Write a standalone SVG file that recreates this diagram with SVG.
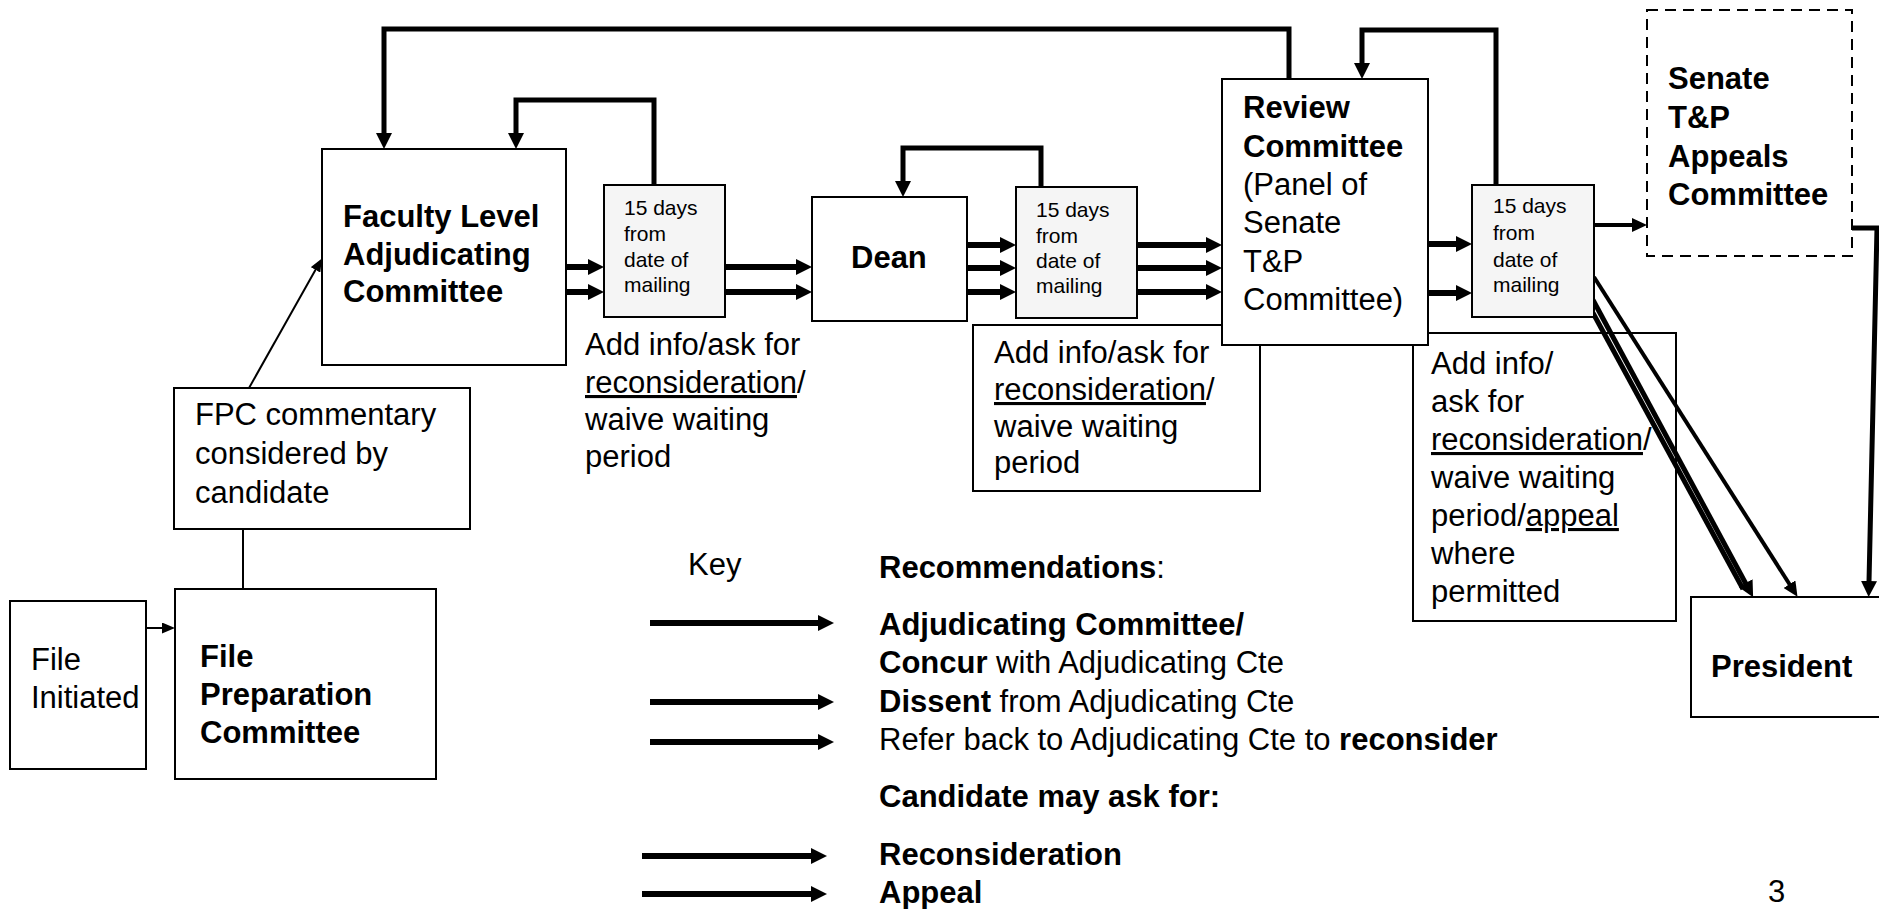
<svg xmlns="http://www.w3.org/2000/svg" width="1879" height="909" viewBox="0 0 1879 909">
<defs>
<style>
.box{fill:#fff;stroke:#000;stroke-width:2}
.gbox{fill:#f5f5f5;stroke:#000;stroke-width:2}
.dbox{fill:#fff;stroke:#000;stroke-width:2;stroke-dasharray:11 7}
text{font-family:"Liberation Sans",Arial,sans-serif;font-size:31px;fill:#000}
.b{font-weight:bold}
.s{font-size:21px}
.u{text-decoration:underline}
.loop{fill:none;stroke:#000;stroke-width:5;stroke-linecap:round}
.flow{fill:none;stroke:#000;stroke-width:6}
.med{fill:none;stroke:#000;stroke-width:4}
.thick{fill:none;stroke:#000;stroke-width:5}
.thin{fill:none;stroke:#000;stroke-width:2}
</style>
<marker id="ah" markerUnits="userSpaceOnUse" markerWidth="16" markerHeight="16" viewBox="0 0 16 16" refX="1" refY="8" orient="auto"><path d="M0,0 L16,8 L0,16 z" fill="#000"/></marker>
<marker id="am" markerUnits="userSpaceOnUse" markerWidth="15" markerHeight="14" viewBox="0 0 15 14" refX="1" refY="7" orient="auto"><path d="M0,0 L15,7 L0,14 z" fill="#000"/></marker>
<marker id="as" markerUnits="userSpaceOnUse" markerWidth="13" markerHeight="11" viewBox="0 0 13 11" refX="1" refY="5.5" orient="auto"><path d="M0,0 L13,5.5 L0,11 z" fill="#000"/></marker>
</defs>
<rect width="1879" height="909" fill="#fff"/>

<g id="label1">
<text x="585" y="355">Add info/ask for</text>
<text x="585" y="393"><tspan class="u">reconsideration</tspan>/</text>
<text x="585" y="430">waive waiting</text>
<text x="585" y="467">period</text>
</g>
<g id="label2">
<rect class="box" x="973" y="325" width="287" height="166"/>
<text x="994" y="363">Add info/ask for</text>
<text x="994" y="400"><tspan class="u">reconsideration</tspan>/</text>
<text x="994" y="437">waive waiting</text>
<text x="994" y="473">period</text>
</g>
<g id="label3">
<rect class="box" x="1413" y="333" width="263" height="288"/>
<text x="1431" y="374">Add info/</text>
<text x="1431" y="412">ask for</text>
<text x="1431" y="450"><tspan class="u">reconsideration</tspan>/</text>
<text x="1431" y="488">waive waiting</text>
<text x="1431" y="526">period/<tspan class="u">appeal</tspan></text>
<text x="1431" y="564">where</text>
<text x="1431" y="602">permitted</text>
</g>

<g id="connectors">
<polyline class="loop" points="1289,79 1289,29 384,29 384,134" marker-end="url(#ah)"/>
<polyline class="loop" points="654,185 654,100 516,100 516,134" marker-end="url(#ah)"/>
<polyline class="loop" points="1041,187 1041,148 903,148 903,182" marker-end="url(#ah)"/>
<polyline class="loop" points="1496,185 1496,30 1362,30 1362,64" marker-end="url(#ah)"/>
<line class="flow" x1="566" y1="267" x2="589" y2="267" marker-end="url(#ah)"/>
<line class="flow" x1="566" y1="292" x2="589" y2="292" marker-end="url(#ah)"/>
<line class="flow" x1="725" y1="267" x2="797" y2="267" marker-end="url(#ah)"/>
<line class="flow" x1="725" y1="292" x2="797" y2="292" marker-end="url(#ah)"/>
<line class="flow" x1="967" y1="245" x2="1001" y2="245" marker-end="url(#ah)"/>
<line class="flow" x1="967" y1="268" x2="1001" y2="268" marker-end="url(#ah)"/>
<line class="flow" x1="967" y1="292" x2="1001" y2="292" marker-end="url(#ah)"/>
<line class="flow" x1="1137" y1="245" x2="1207" y2="245" marker-end="url(#ah)"/>
<line class="flow" x1="1137" y1="268" x2="1207" y2="268" marker-end="url(#ah)"/>
<line class="flow" x1="1137" y1="292" x2="1207" y2="292" marker-end="url(#ah)"/>
<line class="flow" x1="1428" y1="244" x2="1457" y2="244" marker-end="url(#ah)"/>
<line class="flow" x1="1428" y1="293" x2="1457" y2="293" marker-end="url(#ah)"/>
<line class="med" x1="1594" y1="225" x2="1633" y2="225" marker-end="url(#am)"/>
<polyline class="loop" points="1852,228 1877,228 1869,582" marker-end="url(#ah)"/>
<line class="med" x1="1594" y1="277" x2="1790" y2="585" marker-end="url(#am)"/>
<line class="thick" x1="1593" y1="300" x2="1746" y2="584" marker-end="url(#ah)"/>
<line class="thick" x1="1593" y1="313" x2="1743" y2="589"/>
<line class="thin" x1="249" y1="388" x2="316" y2="269" marker-end="url(#as)"/>
<line class="thin" x1="243" y1="529" x2="243" y2="589"/>
<line class="thin" x1="146" y1="628" x2="163" y2="628" marker-end="url(#as)"/>
</g>

<g id="faculty">
<rect class="box" x="322" y="149" width="244" height="216"/>
<text class="b" x="343" y="227">Faculty Level</text>
<text class="b" x="343" y="265">Adjudicating</text>
<text class="b" x="343" y="302">Committee</text>
</g>
<g id="wait1">
<rect class="gbox" x="604" y="185" width="121" height="132"/>
<text class="s" x="624" y="215">15 days</text>
<text class="s" x="624" y="241">from</text>
<text class="s" x="624" y="267">date of</text>
<text class="s" x="624" y="292">mailing</text>
</g>
<g id="dean">
<rect class="box" x="812" y="197" width="155" height="124"/>
<text class="b" x="851" y="268">Dean</text>
</g>
<g id="wait2">
<rect class="gbox" x="1016" y="187" width="121" height="131"/>
<text class="s" x="1036" y="217">15 days</text>
<text class="s" x="1036" y="243">from</text>
<text class="s" x="1036" y="268">date of</text>
<text class="s" x="1036" y="293">mailing</text>
</g>
<g id="review">
<rect class="box" x="1222" y="79" width="206" height="266"/>
<text class="b" x="1243" y="118">Review</text>
<text class="b" x="1243" y="157">Committee</text>
<text x="1243" y="195">(Panel of</text>
<text x="1243" y="233">Senate</text>
<text x="1243" y="272">T&amp;P</text>
<text x="1243" y="310">Committee)</text>
</g>
<g id="wait3">
<rect class="gbox" x="1472" y="185" width="122" height="132"/>
<text class="s" x="1493" y="213">15 days</text>
<text class="s" x="1493" y="240">from</text>
<text class="s" x="1493" y="267">date of</text>
<text class="s" x="1493" y="292">mailing</text>
</g>
<g id="senate">
<rect class="dbox" x="1647" y="10" width="205" height="246"/>
<text class="b" x="1668" y="89">Senate</text>
<text class="b" x="1668" y="128">T&amp;P</text>
<text class="b" x="1668" y="167">Appeals</text>
<text class="b" x="1668" y="205">Committee</text>
</g>
<g id="president">
<rect class="box" x="1691" y="597" width="200" height="120"/>
<text class="b" x="1711" y="677">President</text>
</g>
<g id="fpc">
<rect class="box" x="174" y="388" width="296" height="141"/>
<text x="195" y="425">FPC commentary</text>
<text x="195" y="464">considered by</text>
<text x="195" y="503">candidate</text>
</g>
<g id="fileprep">
<rect class="box" x="175" y="589" width="261" height="190"/>
<text class="b" x="200" y="667">File</text>
<text class="b" x="200" y="705">Preparation</text>
<text class="b" x="200" y="743">Committee</text>
</g>
<g id="fileinit">
<rect class="box" x="10" y="601" width="136" height="168"/>
<text x="31" y="670">File</text>
<text x="31" y="708">Initiated</text>
</g>

<g id="key">
<text x="688" y="575" font-size="34">Key</text>
<text x="879" y="578"><tspan class="b">Recommendations</tspan>:</text>
<line class="flow" x1="650" y1="623" x2="819" y2="623" marker-end="url(#ah)"/>
<text class="b" x="879" y="635">Adjudicating Committee/</text>
<text x="879" y="673"><tspan class="b">Concur</tspan> with Adjudicating Cte</text>
<line class="flow" x1="650" y1="702" x2="819" y2="702" marker-end="url(#ah)"/>
<text x="879" y="712"><tspan class="b">Dissent</tspan> from Adjudicating Cte</text>
<line class="flow" x1="650" y1="742" x2="819" y2="742" marker-end="url(#ah)"/>
<text x="879" y="750">Refer back to Adjudicating Cte to <tspan class="b">reconsider</tspan></text>
<text class="b" x="879" y="807">Candidate may ask for:</text>
<line class="flow" x1="642" y1="856" x2="812" y2="856" marker-end="url(#ah)"/>
<text class="b" x="879" y="865">Reconsideration</text>
<line class="flow" x1="642" y1="894" x2="812" y2="894" marker-end="url(#ah)"/>
<text class="b" x="879" y="903">Appeal</text>
</g>
<text x="1768" y="902" font-size="33">3</text>
</svg>
